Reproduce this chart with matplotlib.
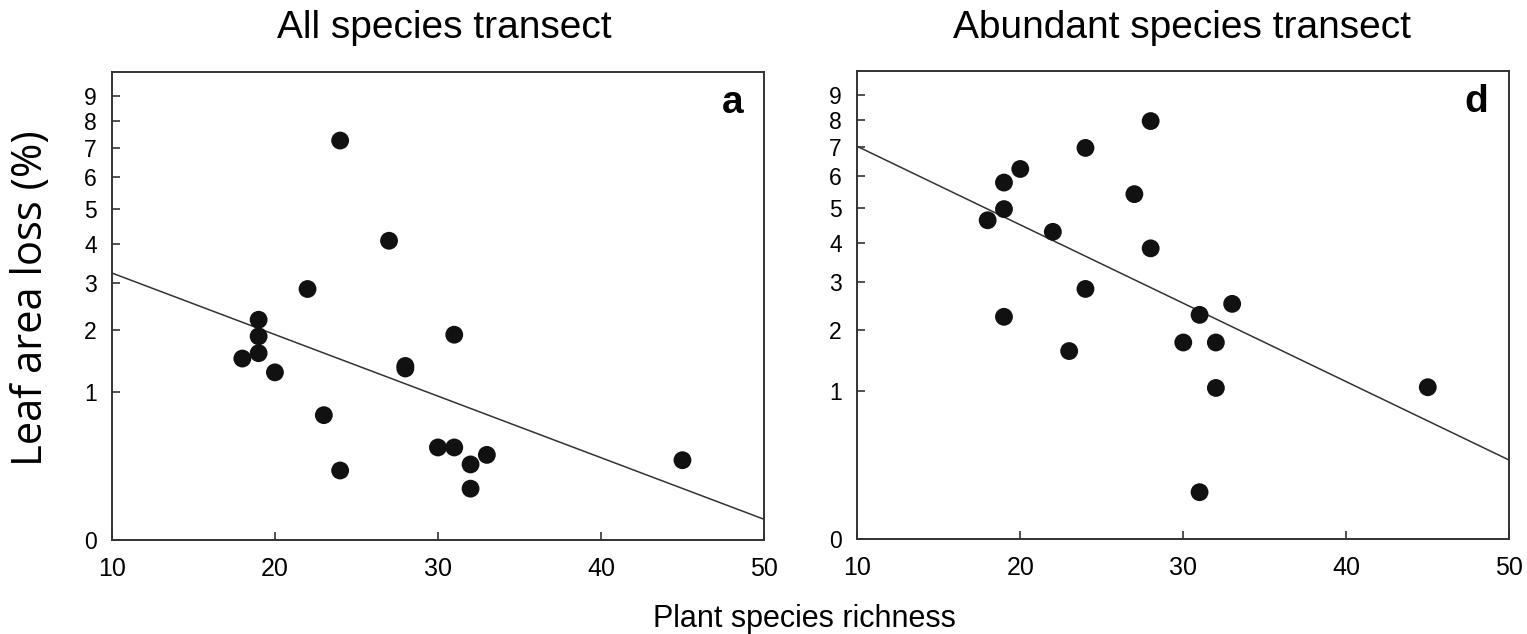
import numpy as np
import matplotlib
matplotlib.use("Agg")
import matplotlib.pyplot as plt

plt.rcParams['font.family'] = ['Liberation Sans', 'DejaVu Sans']

# leaf area loss (%) vs plant species richness, two transects
richness_all = [24, 27, 22, 19, 19, 19, 18, 20, 23, 24, 28, 28, 31, 30, 31, 32, 33, 32, 45]
loss_all = [7.27, 4.08, 2.87, 2.21, 1.89, 1.59, 1.50, 1.28, 0.71, 0.22, 1.34, 1.38,
            1.92, 0.39, 0.39, 0.26, 0.33, 0.12, 0.29]

richness_abund = [28, 24, 20, 19, 27, 19, 18, 22, 28, 24, 19, 23, 30, 31, 33, 32, 32, 31, 45]
loss_abund = [7.96, 6.97, 6.24, 5.79, 5.42, 4.96, 4.63, 4.30, 3.85, 2.85, 2.25, 1.61,
              1.76, 2.29, 2.52, 1.76, 1.04, 0.10, 1.05]

# fitted lines on sqrt-transformed loss: sqrt(y) = a + b*x
fit_all = (2.2175, -0.04155)
fit_abund = (3.18, -0.05295)

panels = [
    ("All species transect", "a", richness_all, loss_all, fit_all),
    ("Abundant species transect", "d", richness_abund, loss_abund, fit_abund),
]

fig = plt.figure(figsize=(15.27, 6.34), dpi=100)
ax_1 = fig.add_axes([0.0733, 0.1483, 0.4270, 0.7389])
ax_2 = fig.add_axes([0.5614, 0.1498, 0.4270, 0.7389])

title_x = [0.2908, 0.7740]

for ax, (title, letter, x, y, fit), tx in zip([ax_1, ax_2], panels, title_x):
    ax.set_yscale('function', functions=(lambda v: np.sqrt(np.clip(v, 0, None)),
                                         lambda v: np.square(v)))
    xs = np.array([10, 50])
    ax.plot(xs, (fit[0] + fit[1] * xs) ** 2, color='#333333', lw=1.1, zorder=2)
    ax.scatter(x, y, s=165, color='#111111', edgecolors='none', zorder=3)

    ax.set_xlim(10, 50)
    ax.set_ylim(0, 10)
    ax.set_xticks([10, 20, 30, 40, 50])
    ax.set_yticks(range(10))
    ax.tick_params(axis='both', direction='in', length=6, width=1.2, color='#333333')
    ax.tick_params(axis='x', labelsize=18, pad=12)
    ax.tick_params(axis='y', labelsize=16.5, pad=11)
    for s in ax.spines.values():
        s.set_linewidth(1.4)
        s.set_color('#333333')

    ax.text(0.968, 0.912, letter, transform=ax.transAxes, ha='right', va='baseline',
            fontsize=28, fontweight='bold')
    fig.text(tx, 0.9396, title, ha='center', va='baseline', fontsize=28)

fig.text(0.02, 0.529, "Leaf area loss (%)", rotation=90, ha='center', va='center',
         fontsize=30, family=['Open Sans', 'DejaVu Sans'])
fig.text(0.5266, 0.0106, "Plant species richness", ha='center', va='baseline', fontsize=22)

fig.savefig("out.png", dpi=100)
